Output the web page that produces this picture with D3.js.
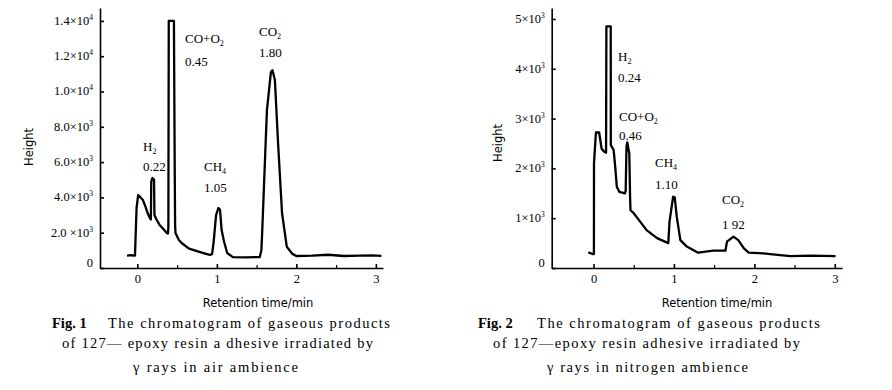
<!DOCTYPE html>
<html><head><meta charset="utf-8">
<script src="https://cdn.jsdelivr.net/npm/d3@7"></script>
<style>
body{margin:0;background:#fff;}
svg{display:block;}
</style></head>
<body>
<svg id="c" width="892" height="390"></svg>
<script>
// ---- data ----
const fig1Time = [-0.13,-0.08,-0.04,-0.03,-0.01,0.01,0.04,0.07,0.10,0.13,0.16,0.17,0.175,0.19,0.21,0.215,0.24,0.28,0.33,0.37,0.385,0.39,0.395,0.46,0.47,0.475,0.48,0.52,0.56,0.65,0.79,0.91,0.94,0.96,0.99,1.02,1.04,1.06,1.09,1.13,1.2,1.35,1.54,1.56,1.57,1.6,1.63,1.68,1.70,1.73,1.77,1.82,1.88,1.95,2.0,2.2,2.4,2.6,2.8,2.95,3.07];
const fig1Height = [700,730,700,700,3400,4130,4000,3850,3500,3100,2800,2750,4900,5100,5000,3000,2750,2440,2200,1980,1950,2300,14000,14000,5550,2400,1980,1600,1400,1100,900,740,780,1500,3000,3400,3300,2150,1500,850,620,600,620,1000,2000,5500,8950,11100,11200,10650,7080,3100,1200,800,680,700,750,680,700,720,690];
const fig2Time = [-0.065,-0.01,0.005,0.006,0.03,0.07,0.10,0.13,0.156,0.16,0.214,0.215,0.25,0.27,0.29,0.32,0.39,0.40,0.41,0.42,0.445,0.455,0.46,0.50,0.58,0.66,0.79,0.93,0.945,0.99,1.01,1.035,1.08,1.16,1.2,1.3,1.49,1.64,1.66,1.74,1.80,1.87,1.93,2.11,2.32,2.45,2.7,3.01];
const fig2Height = [315,280,280,2100,2720,2720,2400,2340,2315,4850,4850,2470,2370,2030,1630,1530,1500,1550,2440,2520,2300,1400,1160,1100,930,760,600,500,930,1430,1420,1030,560,430,395,307,347,347,530,630,560,395,307,295,260,240,250,240];

const fig1YTicks = [0,2000,4000,6000,8000,10000,12000,14000];
const fig1YLabels = [["0",""],["2.0 ×10","3"],["4.0×10","3"],["6.0×10","3"],["8.0×10","3"],["1.0×10","4"],["1.2×10","4"],["1.4×10","4"]];
const fig2YTicks = [0,1000,2000,3000,4000,5000];
const fig2YLabels = [["0",""],["1×10","3"],["2×10","3"],["3×10","3"],["4×10","3"],["5×10","3"]];
const xMajor = [0,1,2,3];
const xMinor = [0.5,1.5,2.5];

const fig1Peaks = [
  {name:"H", sub:"2", rt:"0.22", x:143, y1:151, y2:171},
  {name:"CO+O", sub:"2", rt:"0.45", x:185, y1:43, y2:66},
  {name:"CH", sub:"4", rt:"1.05", x:204, y1:171, y2:192},
  {name:"CO", sub:"2", rt:"1.80", x:259, y1:36, y2:57}
];
const fig2Peaks = [
  {name:"H", sub:"2", rt:"0.24", x:618, y1:61, y2:82},
  {name:"CO+O", sub:"2", rt:"0.46", x:619, y1:121, y2:140},
  {name:"CH", sub:"4", rt:"1.10", x:655, y1:167, y2:189},
  {name:"CO", sub:"2", rt:"1 92", x:722, y1:204, y2:229}
];

const svg = d3.select("#c");
const serif = "'Liberation Serif','DejaVu Serif',serif";
const sans = "'DejaVu Sans','Liberation Sans',sans-serif";

function panel(o){
  const g = svg.append("g");
  const x = d3.scaleLinear().domain(o.xDomain).range([o.left, o.right]);
  const y = d3.scaleLinear().domain([0, o.yMax]).range([268, 8]);

  // y axis
  const ya = d3.axisLeft(y).tickValues(o.yTicks).tickSizeInner(-4).tickSizeOuter(0).tickFormat("").tickPadding(0);
  const yg = g.append("g").attr("transform",`translate(${o.left},0)`).call(ya);
  yg.selectAll("path,line").attr("stroke","#000").attr("stroke-width",1.6);
  // y labels
  o.yTicks.forEach((v,i)=>{
    const t = g.append("text").attr("x", o.left-7).attr("y", y(v)+ (v===0?-1:4))
      .attr("text-anchor","end").attr("font-family",serif).attr("font-size",12.5).attr("fill","#000");
    t.append("tspan").text(o.yLabels[i][0]);
    if(o.yLabels[i][1]) t.append("tspan").attr("font-size",7.5).attr("dy",-5).text(o.yLabels[i][1]);
  });

  // x axis
  const xa = d3.axisBottom(x).tickValues(xMajor).tickSizeInner(-4).tickSizeOuter(0).tickFormat(d3.format("d")).tickPadding(6);
  const xg = g.append("g").attr("transform","translate(0,268)").call(xa);
  xg.selectAll("path,line").attr("stroke","#000").attr("stroke-width",1.6);
  xg.selectAll("text").attr("font-family",serif).attr("font-size",12.5).attr("fill","#000");
  const xm = d3.axisBottom(x).tickValues(xMinor).tickSizeInner(-3).tickSizeOuter(0).tickFormat("");
  const xmg = g.append("g").attr("transform","translate(0,268)").call(xm);
  xmg.select("path").remove();
  xmg.selectAll("line").attr("stroke","#000").attr("stroke-width",1.2);

  // line
  const pts = o.time.map((t,i)=>[t,o.height[i]]);
  g.append("path").datum(pts)
    .attr("d", d3.line().x(d=>x(d[0])).y(d=>y(d[1])))
    .attr("fill","none").attr("stroke","#000").attr("stroke-width",2.3).attr("stroke-linejoin","round");

  // peak labels
  o.peaks.forEach(p=>{
    const t = g.append("text").attr("x",p.x).attr("y",p.y1).attr("font-family",serif).attr("font-size",13).attr("fill","#000");
    t.append("tspan").text(p.name);
    t.append("tspan").attr("font-size",8).attr("dy",3).text(p.sub);
    g.append("text").attr("x",p.x).attr("y",p.y2).attr("font-family",serif).attr("font-size",13).attr("fill","#000").text(p.rt);
  });

  // axis titles
  g.append("text").attr("transform",`translate(${o.hx},${o.hy}) rotate(-90)`).attr("text-anchor","middle")
    .attr("font-family",sans).attr("font-size",11.5).attr("fill","#000").text("Height");
  g.append("text").attr("x",o.tx).attr("y",307).attr("text-anchor","middle")
    .attr("font-family",sans).attr("font-size",11.5).attr("fill","#000").text("Retention time/min");

  // caption
  const c1 = g.append("text").attr("x",o.cap[0][0]).attr("y",328).attr("font-family",serif).attr("font-size",14.5).attr("fill","#000");
  c1.append("tspan").attr("font-weight","bold").text(o.fig);
  c1.append("tspan").attr("x", o.cap[0][1]).attr("textLength", o.cap[0][2]).attr("lengthAdjust","spacing").text("The chromatogram of gaseous products");
  g.append("text").attr("x",o.cap[1][0]).attr("y",348).attr("textLength",o.cap[1][1]).attr("lengthAdjust","spacing")
    .attr("font-family",serif).attr("font-size",14.5).attr("fill","#000").text(o.line2);
  g.append("text").attr("x",o.cap[2][0]).attr("y",372).attr("textLength",o.cap[2][1]).attr("lengthAdjust","spacing")
    .attr("font-family",serif).attr("font-size",14.5).attr("fill","#000").text(o.line3);
}

panel({xDomain:[-0.47,3.09], left:100, right:383, yMax:14730, yTicks:fig1YTicks, yLabels:fig1YLabels,
  time:fig1Time, height:fig1Height, peaks:fig1Peaks, hx:33, hy:147, tx:258,
  fig:"Fig. 1", cap:[[52,108,282],[62,311],[133,165]],
  line2:"of 127\u2014 epoxy resin a dhesive irradiated by", line3:"\u03B3 rays in air ambience"});
panel({xDomain:[-0.52,3.09], left:551.7, right:842, yMax:5220, yTicks:fig2YTicks, yLabels:fig2YLabels,
  time:fig2Time, height:fig2Height, peaks:fig2Peaks, hx:502, hy:143, tx:717,
  fig:"Fig. 2", cap:[[478,537,283],[493,307],[547,201]],
  line2:"of 127\u2014epoxy resin adhesive irradiated by", line3:"\u03B3 rays in nitrogen ambience"});
</script>
</body></html>
